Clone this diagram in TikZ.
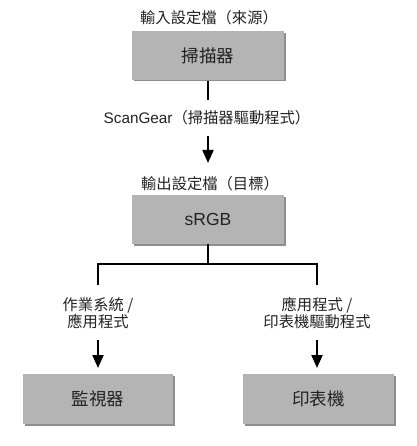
\documentclass[tikz,border=0pt]{standalone}
\usepackage{fontspec}
\setmainfont{Noto Sans CJK TC}
\newfontfamily\latinfont{Liberation Sans}
\usetikzlibrary{arrows.meta}
\definecolor{boxgray}{HTML}{B4B4B4}
\definecolor{shadowgray}{HTML}{8E8E8E}
\definecolor{txt}{HTML}{222222}
\begin{document}
\begin{tikzpicture}[x=1pt,y=-1pt,
  boxnode/.style={fill=boxgray,minimum width=152pt,minimum height=49pt,inner sep=0pt,
    font=\fontsize{17.5}{20}\selectfont,text=txt},
  lbl/.style={font=\fontsize{15.3}{17}\selectfont,text=txt,align=center,inner sep=0pt},
  conn/.style={line width=2pt,black},
  arr/.style={conn,-{Triangle[length=13pt,width=11pt]}}]
\useasboundingbox (0,0) rectangle (416,446);
% shadows
\fill[shadowgray] (133.5,33.5) rectangle (285.5,81.5);
\fill[shadowgray] (133.5,196.5) rectangle (285.5,245.5);
\fill[shadowgray] (24.5,375.5) rectangle (174.5,425.5);
\fill[shadowgray] (244.5,375.5) rectangle (395.5,425.5);
% boxes
\node[boxnode] (scanner) at (208,56) {掃描器};
\node[boxnode] (srgb) at (208,219.5) {\latinfont sRGB};
\node[boxnode,minimum width=150pt,minimum height=50pt] (monitor) at (98,399) {監視器};
\node[boxnode,minimum width=151pt,minimum height=50pt] (printer) at (318.5,399) {印表機};
% labels
\node[lbl] (inlbl) at (209,18) {輸入設定檔（來源）};
\node[lbl] (sg) at (207,118) {{\latinfont ScanGear}（掃描器驅動程式）};
\node[lbl] (outlbl) at (210,184) {輸出設定檔（目標）};
\node[lbl] (osl) at (98,313) {作業系統 /\\應用程式};
\node[lbl] (apl) at (317,313) {應用程式 /\\印表機驅動程式};
% connectors
\coordinate (a1) at (208,100);
\coordinate (a2) at (208,136);
\draw[conn] (scanner.south) -- (a1);
\draw[arr] (a2) -- (208,163);
\coordinate (j) at (208,264);
\coordinate (jl) at (98,264);
\coordinate (jr) at (317,264);
\draw[conn] (srgb.south) -- (j);
\draw[conn] (98,285) -- (jl) -- (jr) -- (317,285);
\coordinate (l1) at (98,340);
\coordinate (r1) at (317,340);
\draw[arr] (l1) -- (98,368);
\draw[arr] (r1) -- (317,368);
\end{tikzpicture}
\end{document}
